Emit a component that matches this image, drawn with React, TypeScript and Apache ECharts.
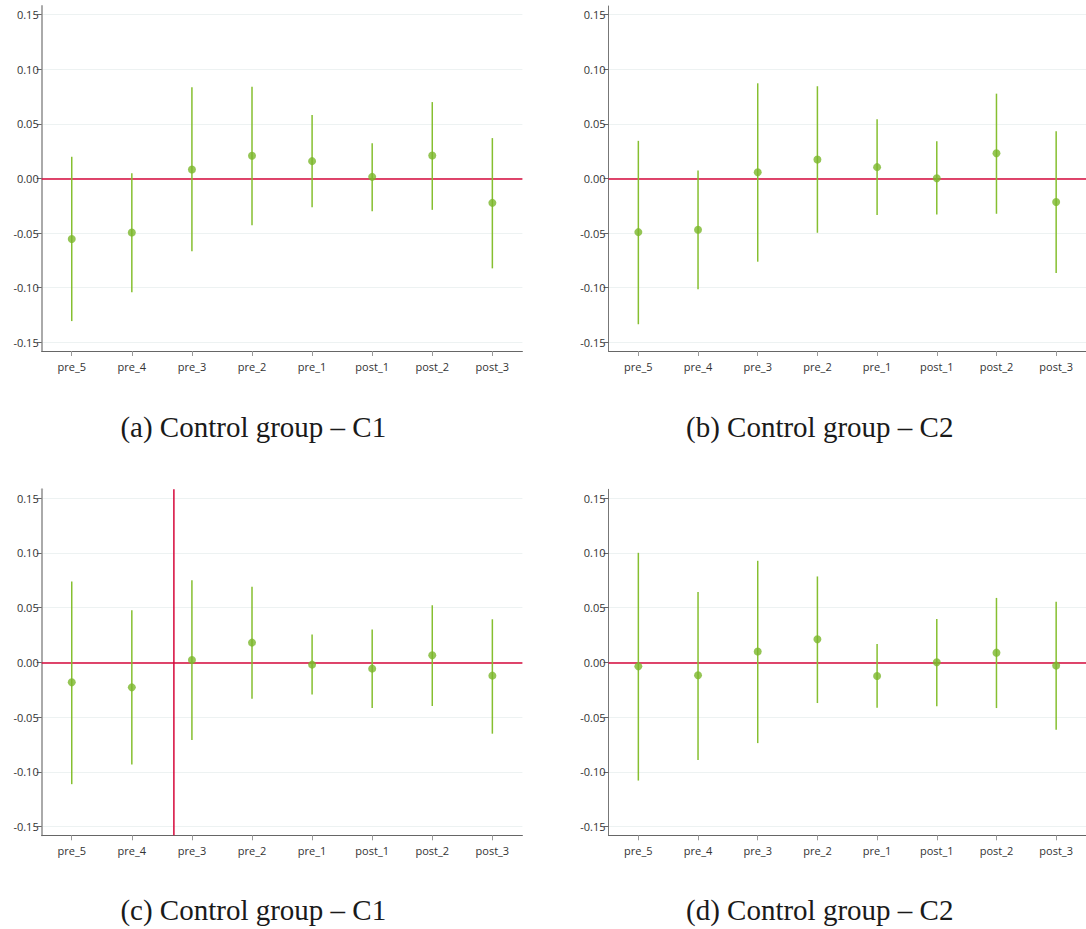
import React, { useEffect, useRef } from "react";
import * as echarts from "echarts";

const categories = ["pre_5", "pre_4", "pre_3", "pre_2", "pre_1", "post_1", "post_2", "post_3"];

const estA = [-0.0554, -0.0495, 0.0083, 0.0208, 0.0159, 0.0015, 0.0211, -0.0223];
const loA = [-0.1306, -0.1043, -0.0667, -0.0428, -0.0263, -0.03, -0.0287, -0.0823];
const hiA = [0.0199, 0.0049, 0.0835, 0.0841, 0.0581, 0.0324, 0.07, 0.037];

const estB = [-0.0491, -0.047, 0.0058, 0.0174, 0.0104, 0.0003, 0.0232, -0.0216];
const loB = [-0.1335, -0.1015, -0.0762, -0.0497, -0.0335, -0.033, -0.0323, -0.0866];
const hiB = [0.0345, 0.0073, 0.0872, 0.0845, 0.0543, 0.0341, 0.0777, 0.0433];

const estC = [-0.0183, -0.0229, 0.0021, 0.018, -0.0021, -0.0058, 0.0064, -0.0122];
const loC = [-0.1113, -0.0933, -0.071, -0.0332, -0.0293, -0.0418, -0.0399, -0.0652];
const hiC = [0.0738, 0.0476, 0.075, 0.0689, 0.0253, 0.0299, 0.0521, 0.0393];

const estD = [-0.0037, -0.0119, 0.0098, 0.021, -0.0125, 0.0, 0.0088, -0.003];
const loD = [-0.108, -0.0893, -0.0738, -0.0372, -0.0415, -0.0402, -0.0418, -0.0616];
const hiD = [0.1, 0.0643, 0.0927, 0.0784, 0.0168, 0.0396, 0.0588, 0.0552];

const yTicks = [-0.15, -0.1, -0.05, 0, 0.05, 0.1, 0.15];
const yMin = -0.158;
const yMax = 0.158;
const vLineX = 1.7; // vertical reference line in panel (c), in category units

const titles = [
  "(a) Control group \u2013 C1",
  "(b) Control group \u2013 C2",
  "(c) Control group \u2013 C1",
  "(d) Control group \u2013 C2",
];

const panels = [
  { est: estA, lo: loA, hi: hiA },
  { est: estB, lo: loB, hi: hiB },
  { est: estC, lo: loC, hi: hiC },
  { est: estD, lo: loD, hi: hiD },
];

const GREEN_PT = "#7ab62a";
const GREEN_LN = "#86bf30";
const RED = "#d6083b";
const FONT = "'Open Sans', 'Noto Sans', sans-serif";

export default function App() {
  const ref = useRef<HTMLDivElement>(null);

  useEffect(() => {
    if (!ref.current) return;
    const chart = echarts.init(ref.current, undefined, { renderer: "svg" });

    const grids = [
      { left: 41.7, top: 6, width: 480.7, height: 345 },
      { left: 608.5, top: 6, width: 480.7, height: 345 },
      { left: 41.7, top: 489.3, width: 480.7, height: 346 },
      { left: 608.5, top: 489.3, width: 480.7, height: 346 },
    ];

    const xAxes: any[] = grids.map((_, gi) => ({
      type: "category",
      gridIndex: gi,
      data: categories,
      boundaryGap: true,
      axisLine: { show: true, onZero: false, lineStyle: { color: "#666", width: 1 } },
      axisTick: { show: true, alignWithLabel: true, length: 5, lineStyle: { color: "#999" } },
      axisLabel: { color: "#333", fontSize: 11, fontFamily: FONT, margin: 10 },
      splitLine: { show: false },
    }));
    xAxes.push({
      type: "value",
      gridIndex: 2,
      min: -0.5,
      max: 7.5,
      show: false,
    });

    const yAxes = grids.map((_, gi) => ({
      type: "value",
      gridIndex: gi,
      min: yMin,
      max: yMax,
      axisLine: {
        show: true,
        onZero: false,
        lineStyle: gi % 2 === 0 ? { color: "#aaa", width: 2 } : { color: "#777", width: 1 },
      },
      axisTick: { show: true, length: 5, customValues: yTicks, lineStyle: { color: "#666" } },
      axisLabel: {
        customValues: yTicks,
        color: "#333",
        fontSize: 11,
        fontFamily: FONT,
        margin: 3,
        formatter: (v: number) => (Math.abs(v) < 1e-9 ? "0.00" : v.toFixed(2)),
      },
      splitLine: { show: true, lineStyle: { color: "#edf2f2", width: 1 } },
    }));

    const series: any[] = [];
    panels.forEach((p, gi) => {
      series.push({
        type: "custom",
        xAxisIndex: gi,
        yAxisIndex: gi,
        z: 3,
        encode: { x: 0, y: [1, 2] },
        data: categories.map((_, i) => [i, p.lo[i], p.hi[i]]),
        renderItem: (params: any, api: any) => {
          const x = api.value(0);
          const a = api.coord([x, api.value(1)]);
          const b = api.coord([x, api.value(2)]);
          return {
            type: "line",
            shape: { x1: a[0], y1: a[1], x2: b[0], y2: b[1] },
            style: { stroke: GREEN_LN, lineWidth: 1.5 },
          };
        },
        markLine: {
          silent: true,
          symbol: ["none", "none"],
          label: { show: false },
          lineStyle: { color: RED, width: 1.5, type: "solid" },
          data: [{ yAxis: 0 }],
          z: 1,
        },
      });
      series.push({
        type: "scatter",
        xAxisIndex: gi,
        yAxisIndex: gi,
        z: 4,
        symbol: "circle",
        symbolSize: 8,
        itemStyle: { color: GREEN_PT },
        data: categories.map((_, i) => [i, p.est[i]]),
      });
    });
    series.push({
      type: "line",
      xAxisIndex: 4,
      yAxisIndex: 2,
      z: 2,
      symbol: "none",
      lineStyle: { color: RED, width: 1.5 },
      data: [
        [vLineX, yMin],
        [vLineX, yMax],
      ],
    });

    const titlePos = [
      { x: 253.3, y: 427 },
      { x: 819.7, y: 427 },
      { x: 253.3, y: 910 },
      { x: 819.7, y: 910 },
    ];

    chart.setOption({
      animation: false,
      backgroundColor: "#ffffff",
      grid: grids,
      xAxis: xAxes,
      yAxis: yAxes,
      series,
      graphic: titles.map((t, i) => ({
        type: "text",
        x: titlePos[i].x,
        y: titlePos[i].y,
        style: {
          text: t,
          font: "29px 'Liberation Serif', serif",
          fill: "#1a1a1a",
          textAlign: "center",
          textVerticalAlign: "middle",
        },
      })),
    });

    return () => chart.dispose();
  }, []);

  return (
    <div
      ref={ref}
      style={{ position: "absolute", left: 0, top: 0, width: 1086, height: 929 }}
    />
  );
}
